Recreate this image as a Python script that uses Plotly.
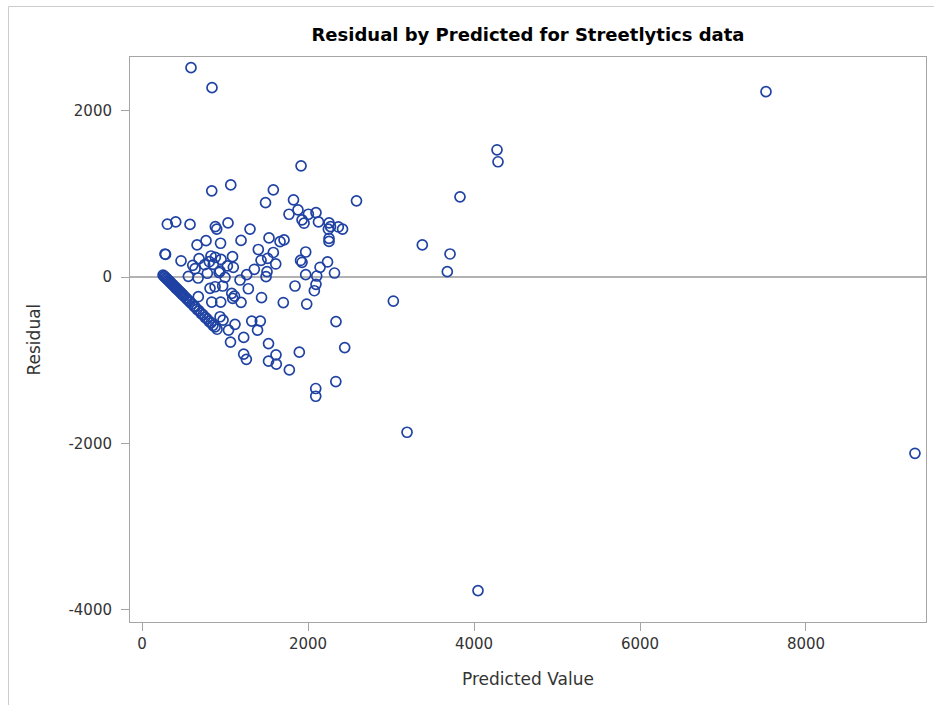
import plotly.graph_objects as go

# Diagonal band (observations whose residual falls as predicted rises)
band_pred = [253, 265, 277, 289, 301, 313, 325, 337, 349, 361, 373, 386, 398, 410, 422,
             434, 446, 458, 470, 482, 494, 506, 530, 542, 566, 578, 602, 626, 639, 663,
             687, 711, 735, 759, 783, 807, 831, 855, 880, 904, 1066]
band_resid = [22, 10, 0, -14, -22, -38, -46, -62, -70, -86, -95, -110, -120, -135, -143,
              -158, -168, -183, -191, -206, -215, -230, -250, -266, -287, -302, -323, -350,
              -360, -388, -408, -436, -455, -484, -503, -532, -551, -580, -600, -628, -783]

# Remaining observations
other_pred = [590, 843, 1916, 1069, 840, 1582, 1488, 1825, 2584, 3831, 4277, 4289, 7518,
              1771, 1879, 2004, 2096, 1928, 1952, 2126, 2253, 2271, 2245, 2365, 2416,
              305, 406, 578, 883, 900, 1036, 1301,
              1193, 771, 663, 946, 1401, 1530, 1663, 1711, 2253, 2253, 3377, 3711, 3678,
              1972, 1582, 1910, 1928, 2235, 2145, 2105, 1972, 2319,
              277, 283, 470, 687, 831, 883, 952, 1090, 611, 639, 755, 811, 859, 1028, 1100,
              1434, 1514, 1353, 1261, 940, 928, 787, 1000, 1494, 1506, 1611, 558, 675, 1181,
              819, 880, 972, 1081, 1114, 1281, 1440, 678, 840, 948, 1093, 1193, 1702, 1984,
              1843, 2096, 2076, 3028,
              940, 976, 1120, 1322, 1425, 1392, 1042, 1225, 1524, 2337, 2442, 1895, 1614,
              1524, 1618, 1775, 2335, 2093, 2093, 1225, 1257,
              3193, 4048, 9313]
other_resid = [2518, 2277, 1337, 1108, 1036, 1048, 895, 928, 916, 964, 1530, 1386, 2229,
               755, 807, 755, 775, 687, 647, 663, 651, 606, 575, 602, 576,
               635, 663, 633, 606, 576, 651, 576,
               440, 437, 386, 406, 331, 470, 425, 446, 464, 428, 386, 277, 64,
               301, 295, 199, 177, 181, 117, 12, 28, 48,
               277, 271, 195, 220, 253, 237, 211, 245, 141, 100, 148, 184, 153, 133, 117,
               201, 225, 93, 28, 72, 54, 45, -4, 4, 64, 157, 8, -12, -36,
               -136, -117, -108, -196, -229, -141, -247, -237, -301, -301, -257, -305, -307, -325,
               -108, -88, -165, -289,
               -478, -518, -569, -530, -530, -639, -639, -726, -801, -536, -849, -904, -936,
               -1012, -1048, -1117, -1257, -1341, -1434, -928, -990,
               -1867, -3771, -2120]

pred = band_pred + other_pred
resid = band_resid + other_resid

x_ticks = [0, 2000, 4000, 6000, 8000]
x_tick_labels = ["0", "2000", "4000", "6000", "8000"]
y_ticks = [-4000, -2000, 0, 2000]
y_tick_labels = ["-4000", "-2000", "0", "2000"]

title_text = "Residual by Predicted for Streetlytics data"
x_title = "Predicted Value"
y_title = "Residual"

FONT = "DejaVu Sans"
AXIS_GRAY = "#A5A5A5"
MARK = "#1F42A3"

fig = go.Figure()
fig.add_trace(go.Scatter(
    x=pred, y=resid, mode="markers",
    marker=dict(symbol="circle-open", size=10, color=MARK,
                line=dict(width=1.7, color=MARK)),
    showlegend=False, hoverinfo="x+y",
))

W, H = 934, 705
L, R, T, B = 130, 8, 57, 83
pw, ph = W - L - R, H - T - B

fig.update_layout(
    width=W, height=H,
    margin=dict(l=L, r=R, t=T, b=B, pad=0),
    paper_bgcolor="white", plot_bgcolor="white",
    font=dict(family=FONT, color="#333333"),
    title=dict(text="<b>" + title_text + "</b>", x=0.5, xref="paper",
               y=1 - 35 / H, yref="container", xanchor="center", yanchor="middle",
               font=dict(family=FONT, size=18, color="#000000")),
    xaxis=dict(range=[-145, 9446], tickvals=x_ticks, ticktext=x_tick_labels,
               showgrid=False, zeroline=False,
               showline=True, linecolor=AXIS_GRAY, linewidth=1, mirror=True,
               ticks="outside", ticklen=8, tickcolor=AXIS_GRAY, tickwidth=1,
               tickfont=dict(size=15, color="#333333")),
    yaxis=dict(range=[-4149, 2646], tickvals=y_ticks, ticktext=y_tick_labels,
               showgrid=False, zeroline=False,
               showline=True, linecolor=AXIS_GRAY, linewidth=1, mirror=True,
               ticks="outside", ticklen=8, tickcolor=AXIS_GRAY, tickwidth=1,
               ticklabelstandoff=6,
               tickfont=dict(size=15, color="#333333")),
    annotations=[
        dict(text=x_title, xref="paper", yref="paper", x=0.5, y=-(679 - (T + ph)) / ph,
             xanchor="center", yanchor="middle", showarrow=False,
             font=dict(size=17, color="#333333", family=FONT)),
        dict(text=y_title, xref="paper", yref="paper", x=(33 - L) / pw, y=0.5,
             textangle=-90, xanchor="center", yanchor="middle", showarrow=False,
             font=dict(size=17, color="#333333", family=FONT)),
    ],
    shapes=[
        # reference line at residual 0
        dict(type="line", xref="paper", yref="y", x0=0, x1=1, y0=0, y1=0,
             line=dict(color="#999999", width=1.5), layer="below"),
        # outer frame (left and top edges)
        dict(type="line", xref="paper", yref="paper",
             x0=(8.5 - L) / pw, x1=(8.5 - L) / pw, y0=-(B + 5) / ph, y1=1 + (T - 6.5) / ph,
             line=dict(color="#CCCCCC", width=1)),
        dict(type="line", xref="paper", yref="paper",
             x0=(8.5 - L) / pw, x1=1 + (R + 5) / pw, y0=1 + (T - 6.5) / ph, y1=1 + (T - 6.5) / ph,
             line=dict(color="#CCCCCC", width=1)),
    ],
)

fig.write_html("out.html")
